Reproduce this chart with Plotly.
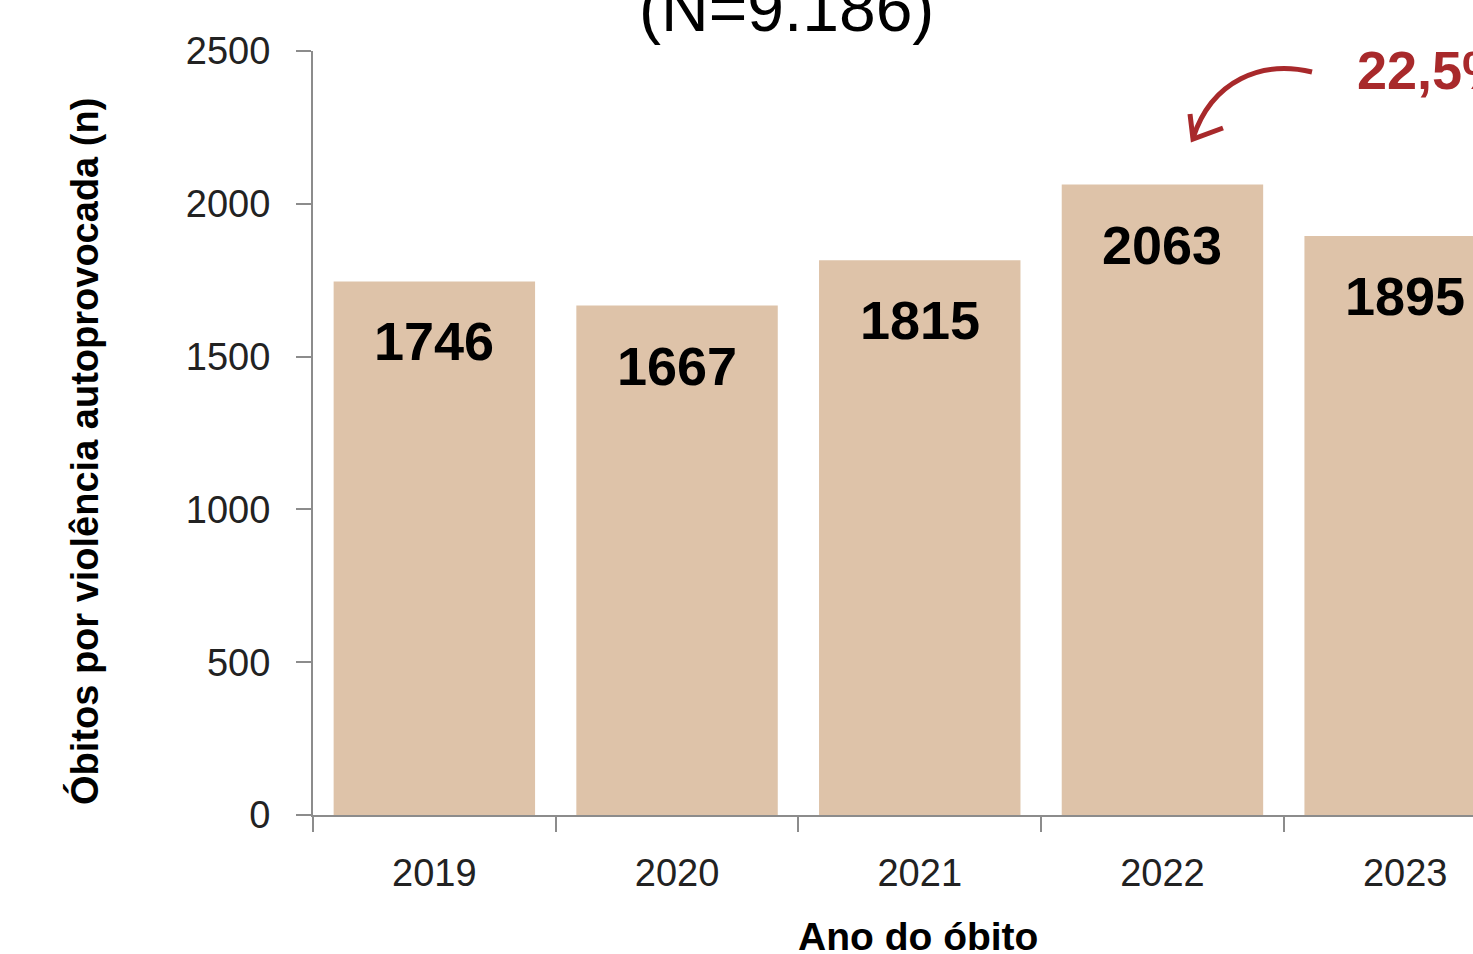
import plotly.graph_objects as go

# ---------------------------------------------------------------------------
# Data
# ---------------------------------------------------------------------------
YEARS = ["2019", "2020", "2021", "2022", "2023"]
DEATHS = [1746, 1667, 1815, 2063, 1895]
Y_TICKS = [0, 500, 1000, 1500, 2000, 2500]

TITLE = "(N=9.186)"
CALLOUT = "22,5%"

BAR_COLOR = "#DEC3A9"
RED = "#A8292B"
AXIS_GRAY = "#8C8C8C"
FONT = "Liberation Sans"

# pixel geometry of the plot area
W, H = 1473, 954
L, T, B = 313, 51, 139
PW, PH = W - L, H - T - B


def px(x):
    return (x - L) / PW


def py(y):
    return (H - B - y) / PH


# ---------------------------------------------------------------------------
# Figure
# ---------------------------------------------------------------------------
fig = go.Figure(
    go.Bar(
        x=YEARS,
        y=DEATHS,
        marker=dict(color=BAR_COLOR, line=dict(width=0)),
        width=0.83,
        hoverinfo="x+y",
    )
)

# data labels inside the top of each bar (category index on the x axis)
for i, v in enumerate(DEATHS):
    fig.add_annotation(
        x=i, y=v, xref="x", yref="y", yshift=-60, text=str(v), showarrow=False,
        xanchor="center", yanchor="middle",
        font=dict(family=FONT, size=54, color="black", weight="bold"),
    )

fig.update_layout(
    width=W, height=H,
    margin=dict(l=L, r=0, t=T, b=B, pad=0),
    plot_bgcolor="white",
    paper_bgcolor="white",
    showlegend=False,
    font=dict(family=FONT, color="#222"),
    bargap=0.17,
)

fig.update_xaxes(
    type="category",
    range=[-0.5, -0.5 + PW / 242.7],
    showline=True, linecolor=AXIS_GRAY, linewidth=2,
    ticks="outside", tickson="boundaries", ticklen=15, tickcolor=AXIS_GRAY, tickwidth=2,
    tickfont=dict(size=38, family=FONT, color="#222"),
    ticklabelstandoff=23,
    showgrid=False, zeroline=False,
)
fig.update_yaxes(
    range=[0, 2500],
    tickvals=Y_TICKS,
    showline=True, linecolor=AXIS_GRAY, linewidth=2,
    ticks="outside", ticklen=15, tickcolor=AXIS_GRAY, tickwidth=2,
    tickfont=dict(size=38, family=FONT, color="#222"),
    ticklabelstandoff=18,
    showgrid=False, zeroline=False,
)

# axis titles
fig.add_annotation(
    x=px(85), y=py(452), xref="paper", yref="paper",
    xanchor="center", yanchor="middle",
    text="Óbitos por violência autoprovocada (n)", textangle=-90, showarrow=False,
    font=dict(family=FONT, size=38, color="black", weight="bold"),
)
fig.add_annotation(
    x=px(918), y=py(936), xref="paper", yref="paper",
    xanchor="center", yanchor="middle",
    text="Ano do óbito", showarrow=False,
    font=dict(family=FONT, size=39, color="black", weight="bold"),
)

# title (cut at top of the crop)
fig.add_annotation(
    x=px(786), y=py(8), xref="paper", yref="paper",
    xanchor="center", yanchor="middle",
    text=TITLE, showarrow=False,
    font=dict(family=FONT, size=66, color="black"),
)

# red callout with curved arrow
fig.add_annotation(
    x=px(1355), y=py(70), xref="paper", yref="paper",
    xanchor="left", yanchor="middle",
    text=CALLOUT, showarrow=False,
    font=dict(family=FONT, size=54, color=RED, weight="bold"),
)
curve = (
    f"M {px(1312)},{py(72)} "
    f"C {px(1262)},{py(60)} {px(1212)},{py(80)} {px(1193)},{py(138)}"
)
fig.add_shape(type="path", path=curve, xref="paper", yref="paper",
              line=dict(color=RED, width=5))
head = (
    f"M {px(1190)},{py(114)} L {px(1193)},{py(139)} L {px(1223)},{py(128)}"
)
fig.add_shape(type="path", path=head, xref="paper", yref="paper",
              line=dict(color=RED, width=5))

# drop the default page margin so the figure sits at the window's corner
fig.write_html(
    "out.html",
    config={"displayModeBar": False},
    post_script="document.body.style.margin='0';",
)
